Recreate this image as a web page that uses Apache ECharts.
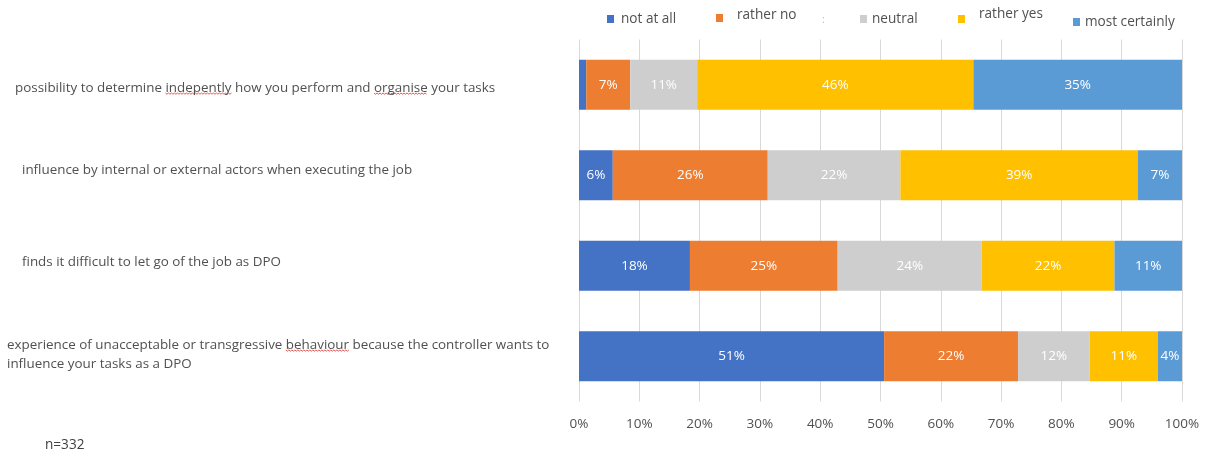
<!DOCTYPE html>
<html><head><meta charset="utf-8">
<script src="https://cdn.jsdelivr.net/npm/echarts@6/dist/echarts.min.js"></script>
<style>html,body{margin:0;padding:0;background:#fff}#c{width:1208px;height:455px}</style>
</head><body><div id="c"></div>
<script>
const categories = [
  'possibility to determine indepently how you perform and organise your tasks',
  'influence by internal or external actors when executing the job',
  'finds it difficult to let go of the job as DPO',
  'experience of unacceptable or transgressive behaviour because the controller wants to\ninfluence your tasks as a DPO'
];
const seriesNames = ['not at all', 'rather no', 'neutral', 'rather yes', 'most certainly'];
const notAtAll      = [1.2, 5.6, 18.4, 50.6];
const ratherNo      = [7.3, 25.7, 24.5, 22.2];
const neutral       = [11.1, 22.0, 23.9, 11.9];
const ratherYes     = [45.8, 39.4, 22.0, 11.3];
const mostCertainly = [34.6, 7.3, 11.2, 4.0];
const xTicks = [0, 10, 20, 30, 40, 50, 60, 70, 80, 90, 100];
const sampleNote = 'n=332';

const colors = ['#4472C4', '#ED7D31', '#CFCECE', '#FFC000', '#5B9BD5'];
const values = [notAtAll, ratherNo, neutral, ratherYes, mostCertainly];
const FONT = '"Open Sans", "Noto Sans", sans-serif';
const LFS = 13.4;
const TXT = '#505050';

const chart = echarts.init(document.getElementById('c'), null, {renderer: 'canvas'});

// raise: how far the legend text sits above its icon centre
const legendPos = [
  {left: 607, top: 12, padL: 2, raise: 0},
  {left: 716, top: 8, padL: 9, raise: 3},
  {left: 860, top: 12, padL: 0, raise: 0},
  {left: 958, top: 7, padL: 9, raise: 5},
  {left: 1073, top: 15, padL: 0, raise: 0}
];

const rowPad = [[6, 0, 0, 8], [0, 0, 10, 15], [0, 0, 8, 15]];
const labelLeft = 7;

const option = {
  animation: false,
  color: colors,
  grid: {left: 579, right: 26, top: 39.5, bottom: 53.5, containLabel: false},
  legend: seriesNames.map((n, i) => {
    const lp = legendPos[i];
    const ts = {color: TXT, fontSize: 13.6, fontFamily: FONT, padding: [0, 0, 0, lp.padL]};
    if (lp.raise) ts.lineHeight = lp.raise * 2;
    return {
      data: [n], left: lp.left, top: lp.top, padding: 0,
      icon: 'rect', itemWidth: 7, itemHeight: 8, selectedMode: false,
      formatter: name => lp.raise ? name + '\n ' : name,
      textStyle: ts
    };
  }),
  xAxis: {
    type: 'value', min: 0, max: 100, interval: 10,
    axisLabel: {formatter: v => xTicks.includes(v) ? v + '%' : '', color: TXT, fontSize: 13.5, fontFamily: FONT, margin: 16},
    splitLine: {show: true, lineStyle: {color: '#D9D9D9', width: 1}},
    axisLine: {show: false}, axisTick: {show: false}
  },
  yAxis: {
    type: 'category', inverse: true, data: categories,
    axisLine: {show: false}, axisTick: {show: false},
    axisLabel: {
      align: 'left', margin: 579 - labelLeft, color: TXT, fontSize: LFS, fontFamily: FONT,
      lineHeight: 19,
      formatter: (v, idx) => v.split('\n').map(s => '{r' + idx + '|' + s + '}').join('\n'),
      rich: {
        r0: {padding: rowPad[0], color: TXT, fontSize: LFS, fontFamily: FONT},
        r1: {padding: rowPad[1], color: TXT, fontSize: LFS, fontFamily: FONT},
        r2: {padding: rowPad[2], color: TXT, fontSize: LFS, fontFamily: FONT},
        r3: {padding: [0, 0, 4, 0], color: TXT, fontSize: LFS, fontFamily: FONT, lineHeight: 19}
      }
    }
  },
  series: seriesNames.map((n, i) => ({
    name: n, type: 'bar', stack: 'total', barWidth: 50,
    data: values[i],
    itemStyle: {color: colors[i]},
    label: {
      show: true, position: 'inside', color: '#fff', fontSize: 13.5, fontFamily: FONT,
      formatter: p => p.value < 2 ? '' : Math.round(p.value) + '%'
    }
  })),
  graphic: [
    {type: 'text', left: 822, top: 14, style: {text: ':', fill: '#BFBFBF', font: '11px ' + FONT}},
    {type: 'text', left: 45, top: 438, style: {text: sampleNote, fill: '#404040', font: '13.6px ' + FONT}}
  ]
};
chart.setOption(option);

// red spell-check squiggles under flagged words, positioned by text measurement
const ctx = document.createElement('canvas').getContext('2d');
ctx.font = LFS + 'px ' + FONT;
function squiggleFor(rowIdx, word, y) {
  const line = categories[rowIdx].split('\n')[0];
  const padLeft = rowIdx < 3 ? rowPad[rowIdx][3] : 0;
  const start = line.indexOf(word);
  const x0 = labelLeft + padLeft + ctx.measureText(line.slice(0, start)).width;
  const x1 = x0 + ctx.measureText(word).width;
  const pts = [];
  for (let x = x0, k = 0; x <= x1; x += 1.5, k++) pts.push([x, y + (k % 2 ? 1.2 : 0)]);
  return {type: 'polyline', shape: {points: pts}, style: {stroke: '#E0302A', lineWidth: 0.8, fill: null}};
}
chart.setOption({graphic: option.graphic.concat([
  squiggleFor(0, 'indepently', 93), squiggleFor(0, 'organise', 93), squiggleFor(3, 'behaviour', 350)
])});
</script></body></html>
